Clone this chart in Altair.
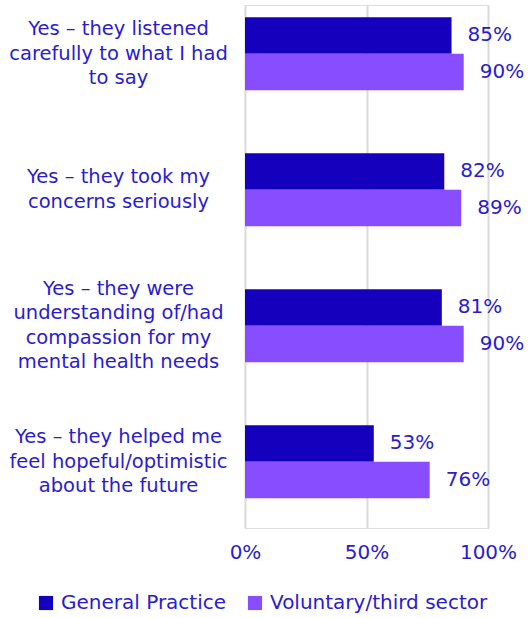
import altair as alt
import pandas as pd

categories = [
    "Yes – they listened|carefully to what I had|to say",
    "Yes – they took my|concerns seriously",
    "Yes – they were|understanding of/had|compassion for my|mental health needs",
    "Yes – they helped me|feel hopeful/optimistic|about the future",
]
series = ["General Practice", "Voluntary/third sector"]
gp_values = [0.85, 0.82, 0.81, 0.53]
vol_values = [0.90, 0.89, 0.90, 0.76]
colors = ["#1500be", "#884dff"]
x_ticks = [0, 0.5, 1.0]

rows = []
for c, g, v in zip(categories, gp_values, vol_values):
    rows.append({"category": c, "series": series[0], "value": g})
    rows.append({"category": c, "series": series[1], "value": v})
df = pd.DataFrame(rows)

TXT = "#2a1bd0"
FONT = "DejaVu Sans"
LH = 24.5

y_enc = alt.Y(
    "category:N",
    sort=categories,
    title=None,
    scale=alt.Scale(paddingInner=0.463, paddingOuter=0.154, align=0.29),
    axis=alt.Axis(
        labelExpr="split(datum.label, '|')",
        labelAlign="center",
        labelBaseline="middle",
        labelPadding=127,
        labelLineHeight=LH,
        labelOffset={
            "condition": [
                {"test": "length(split(datum.value, '|')) == 2", "value": -LH / 2},
                {"test": "length(split(datum.value, '|')) == 4", "value": -LH * 1.5},
            ],
            "value": -LH,
        },
        labelFontSize=19.5,
        labelColor=TXT,
        labelFont=FONT,
        ticks=False,
        domain=False,
        labelLimit=300,
    ),
)
x_enc = alt.X(
    "value:Q",
    title=None,
    scale=alt.Scale(domain=[0, 1], nice=False),
    axis=alt.Axis(
        values=x_ticks,
        format=".0%",
        grid=True,
        gridColor="#d9d9d9",
        gridWidth=2,
        ticks=False,
        domain=False,
        labelFontSize=20,
        labelColor=TXT,
        labelFont=FONT,
        labelPadding=14,
        labelFlush=False,
    ),
)
yoff = alt.YOffset("series:N", sort=series)

bars = alt.Chart(df).mark_bar().encode(
    y=y_enc,
    x=x_enc,
    yOffset=yoff,
    color=alt.Color(
        "series:N",
        sort=series,
        scale=alt.Scale(domain=series, range=colors),
        legend=alt.Legend(
            title=None,
            orient="none",
            legendX=-209,
            legendY=588,
            direction="horizontal",
            symbolType="square",
            symbolSize=200,
            symbolStrokeWidth=0,
            labelFontSize=20,
            labelColor=TXT,
            labelFont=FONT,
            labelLimit=400,
            columnPadding=18,
            symbolOffset=0,
            labelOffset=5,
        ),
    ),
)

labels = alt.Chart(df).mark_text(
    align="left", baseline="middle", dx=16, fontSize=20, color=TXT, font=FONT
).encode(
    y=alt.Y("category:N", sort=categories),
    x=alt.X("value:Q"),
    yOffset=yoff,
    text=alt.Text("value:Q", format=".0%"),
)

chart = (
    alt.layer(bars, labels)
    .properties(
        width=243,
        height=523,
        autosize=alt.AutoSizeParams(type="none"),
        padding={"left": 245, "top": 5, "right": 42, "bottom": 90},
    )
    .configure_view(stroke=None)
    .configure(background="white")
)

chart.save("out.html", embed_options={"renderer": "svg", "actions": False})
